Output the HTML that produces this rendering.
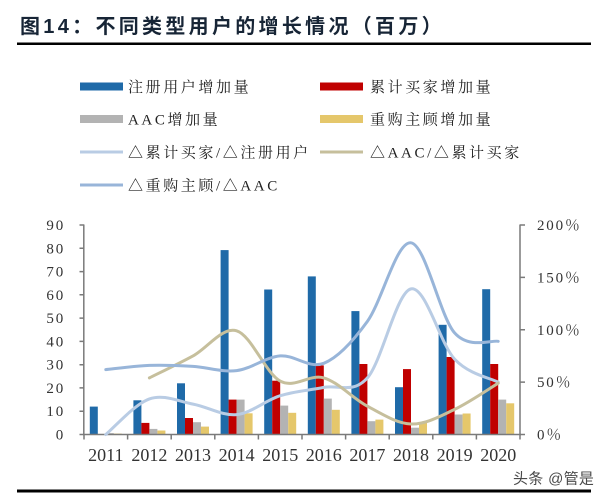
<!DOCTYPE html>
<html><head><meta charset="utf-8"><style>
html,body{margin:0;padding:0;background:#fff;}
svg{display:block;}
.lg{font-family:"Liberation Serif","Noto Serif CJK SC",serif;font-size:15px;letter-spacing:2.6px;fill:#222;}
.yl{font-family:"Liberation Serif","Noto Serif CJK SC",serif;font-size:15px;letter-spacing:1.8px;fill:#333;}
.xl{font-family:"Liberation Serif","Noto Serif CJK SC",serif;font-size:18px;fill:#333;}
</style></head><body>
<svg width="607" height="500" viewBox="0 0 607 500" xmlns="http://www.w3.org/2000/svg">
<rect width="607" height="500" fill="#fff"/>
<text x="20" y="33" font-family="'Liberation Sans','Noto Sans CJK SC',sans-serif" font-weight="bold" font-size="20" letter-spacing="3.3" fill="#172536">图14：不同类型用户的增长情况（百万）</text>
<rect x="17" y="42.5" width="574" height="2.5" fill="#000"/>

<rect x="80" y="82.5" width="43" height="8" fill="#1F6AA8"/>
<text class="lg" x="128" y="92">注册用户增加量</text>
<rect x="320" y="82.5" width="43" height="8" fill="#C00000"/>
<text class="lg" x="370" y="92">累计买家增加量</text>
<rect x="80" y="115" width="43" height="8" fill="#B3B3B3"/>
<text class="lg" x="128" y="124.5">AAC增加量</text>
<rect x="320" y="115" width="43" height="8" fill="#E5C76B"/>
<text class="lg" x="370" y="124.5">重购主顾增加量</text>
<line x1="80" y1="152" x2="123" y2="152" stroke="#B9CCE4" stroke-width="3"/>
<text class="lg" x="128" y="157.5">△累计买家/△注册用户</text>
<line x1="320" y1="152" x2="363" y2="152" stroke="#C6BF9C" stroke-width="3"/>
<text class="lg" x="370" y="157.5">△AAC/△累计买家</text>
<line x1="80" y1="185" x2="123" y2="185" stroke="#98B5D9" stroke-width="3"/>
<text class="lg" x="128" y="190.5">△重购主顾/△AAC</text>

<g class="yl" text-anchor="end">
<text x="65" y="230">90</text>
<text x="65" y="253.3">80</text>
<text x="65" y="276.6">70</text>
<text x="65" y="299.8">60</text>
<text x="65" y="323.1">50</text>
<text x="65" y="346.4">40</text>
<text x="65" y="369.7">30</text>
<text x="65" y="392.9">20</text>
<text x="65" y="416.2">10</text>
<text x="65" y="439.5">0</text>
</g>
<g class="yl">
<text x="537" y="230">200％</text>
<text x="537" y="282.4">150％</text>
<text x="537" y="334.8">100％</text>
<text x="537" y="387.1">50％</text>
<text x="537" y="439.5">0％</text>
</g>

<g>
<rect x="89.8" y="406.6" width="8" height="27.9" fill="#1F6AA8"/>
<rect x="105.8" y="433.1" width="8" height="1.4" fill="#B3B3B3"/>
<rect x="113.8" y="433.6" width="8" height="0.9" fill="#E5C76B"/>
<rect x="133.4" y="400.3" width="8" height="34.2" fill="#1F6AA8"/>
<rect x="141.4" y="422.9" width="8" height="11.6" fill="#C00000"/>
<rect x="149.4" y="428.9" width="8" height="5.6" fill="#B3B3B3"/>
<rect x="157.4" y="430.5" width="8" height="4.0" fill="#E5C76B"/>
<rect x="177.0" y="383.3" width="8" height="51.2" fill="#1F6AA8"/>
<rect x="185.0" y="418.0" width="8" height="16.5" fill="#C00000"/>
<rect x="193.0" y="422.2" width="8" height="12.3" fill="#B3B3B3"/>
<rect x="201.0" y="426.6" width="8" height="7.9" fill="#E5C76B"/>
<rect x="220.6" y="250.1" width="8" height="184.4" fill="#1F6AA8"/>
<rect x="228.6" y="399.6" width="8" height="34.9" fill="#C00000"/>
<rect x="236.6" y="399.6" width="8" height="34.9" fill="#B3B3B3"/>
<rect x="244.6" y="413.3" width="8" height="21.2" fill="#E5C76B"/>
<rect x="264.2" y="289.5" width="8" height="145.0" fill="#1F6AA8"/>
<rect x="272.2" y="380.7" width="8" height="53.8" fill="#C00000"/>
<rect x="280.2" y="405.6" width="8" height="28.9" fill="#B3B3B3"/>
<rect x="288.2" y="412.8" width="8" height="21.7" fill="#E5C76B"/>
<rect x="307.8" y="276.4" width="8" height="158.1" fill="#1F6AA8"/>
<rect x="315.8" y="365.4" width="8" height="69.1" fill="#C00000"/>
<rect x="323.8" y="398.6" width="8" height="35.9" fill="#B3B3B3"/>
<rect x="331.8" y="409.8" width="8" height="24.7" fill="#E5C76B"/>
<rect x="351.4" y="311.1" width="8" height="123.4" fill="#1F6AA8"/>
<rect x="359.4" y="364.0" width="8" height="70.5" fill="#C00000"/>
<rect x="367.4" y="421.2" width="8" height="13.3" fill="#B3B3B3"/>
<rect x="375.4" y="419.6" width="8" height="14.9" fill="#E5C76B"/>
<rect x="395.0" y="387.2" width="8" height="47.3" fill="#1F6AA8"/>
<rect x="403.0" y="369.1" width="8" height="65.4" fill="#C00000"/>
<rect x="411.0" y="427.7" width="8" height="6.8" fill="#B3B3B3"/>
<rect x="419.0" y="422.9" width="8" height="11.6" fill="#E5C76B"/>
<rect x="438.6" y="324.8" width="8" height="109.7" fill="#1F6AA8"/>
<rect x="446.6" y="357.0" width="8" height="77.5" fill="#C00000"/>
<rect x="454.6" y="414.5" width="8" height="20.0" fill="#B3B3B3"/>
<rect x="462.6" y="413.5" width="8" height="21.0" fill="#E5C76B"/>
<rect x="482.2" y="289.2" width="8" height="145.3" fill="#1F6AA8"/>
<rect x="490.2" y="364.0" width="8" height="70.5" fill="#C00000"/>
<rect x="498.2" y="399.6" width="8" height="34.9" fill="#B3B3B3"/>
<rect x="506.2" y="403.3" width="8" height="31.2" fill="#E5C76B"/>
</g>

<g stroke="#7a7a7a" stroke-width="1.5" fill="none">
<line x1="83.8" y1="224.5" x2="83.8" y2="435"/>
<line x1="520" y1="224.5" x2="520" y2="435"/>
<line x1="83" y1="434.5" x2="521" y2="434.5"/>
<path d="M79.5,225H84M79.5,248.3H84M79.5,271.6H84M79.5,294.8H84M79.5,318.1H84M79.5,341.4H84M79.5,364.7H84M79.5,387.9H84M79.5,411.2H84M79.5,434.5H84"/>
<path d="M520,225H525M520,277.4H525M520,329.8H525M520,382.1H525M520,434.5H525"/>
<path d="M84,434.5V439.5M127.6,434.5V439.5M171.2,434.5V439.5M214.8,434.5V439.5M258.4,434.5V439.5M302,434.5V439.5M345.6,434.5V439.5M389.2,434.5V439.5M432.8,434.5V439.5M476.4,434.5V439.5M520,434.5V439.5"/>
</g>

<g fill="none" stroke-width="3" stroke-linecap="round">
<path stroke="#B9CCE4" d="M105.8,434.5 C113.07,428.57 134.87,403.97 149.4,398.9 C163.93,393.83 178.47,401.48 193,404.1 C207.53,406.72 222.07,416 236.6,414.6 C251.13,413.2 265.67,400.23 280.2,395.7 C294.73,391.17 309.27,390.37 323.8,387.4 C338.33,384.43 352.87,394.32 367.4,377.9 C381.93,361.48 396.47,292.03 411,288.9 C425.53,285.77 440.07,343.57 454.6,359.1 C469.13,374.63 490.93,378.27 498.2,382.1"/>
<path stroke="#C6BF9C" d="M149.4,377.9 C156.67,374.23 178.47,363.75 193,355.9 C207.53,348.05 222.07,326.6 236.6,330.8 C251.13,335 265.67,373.25 280.2,381.1 C294.73,388.95 309.27,373.72 323.8,377.9 C338.33,382.08 352.87,398.52 367.4,406.2 C381.93,413.88 396.47,423.47 411,424 C425.53,424.53 440.07,416.2 454.6,409.4 C469.13,402.6 490.93,387.57 498.2,383.2"/>
<path stroke="#98B5D9" d="M105.8,369.6 C113.07,368.9 134.87,365.93 149.4,365.4 C163.93,364.87 178.47,365.53 193,366.4 C207.53,367.27 222.07,372.35 236.6,370.6 C251.13,368.85 265.67,357.12 280.2,355.9 C294.73,354.68 309.27,369.05 323.8,363.3 C338.33,357.55 352.87,341.48 367.4,321.4 C381.93,301.32 396.47,240.88 411,242.8 C425.53,244.72 440.07,316.48 454.6,332.9 C469.13,349.32 490.93,339.9 498.2,341.3"/>
</g>

<g class="xl" text-anchor="middle">
<text x="105.8" y="461">2011</text>
<text x="149.4" y="461">2012</text>
<text x="193" y="461">2013</text>
<text x="236.6" y="461">2014</text>
<text x="280.2" y="461">2015</text>
<text x="323.8" y="461">2016</text>
<text x="367.4" y="461">2017</text>
<text x="411" y="461">2018</text>
<text x="454.6" y="461">2019</text>
<text x="498.2" y="461">2020</text>
</g>

<text x="513" y="483.5" font-family="'Liberation Sans','Noto Sans CJK SC',sans-serif" font-size="15" letter-spacing="0.3" fill="#4a4a4a">头条 @管是</text>

<rect x="17" y="489.5" width="574" height="3" fill="#000"/>
</svg>
</body></html>
